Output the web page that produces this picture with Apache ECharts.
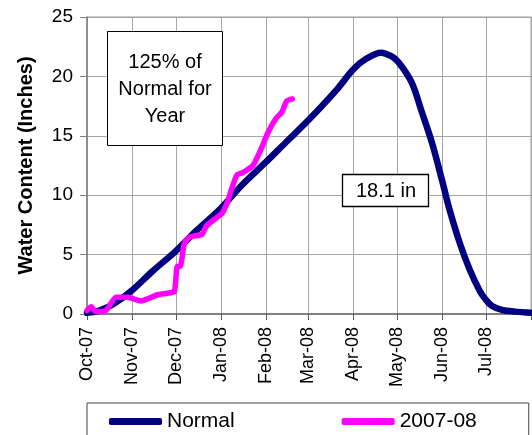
<!DOCTYPE html>
<html>
<head>
<meta charset="utf-8">
<script src="https://cdn.jsdelivr.net/npm/echarts@6/dist/echarts.min.js"></script>
<style>
html,body{margin:0;padding:0;background:#fff;}
#c{width:532px;height:435px;}
</style>
</head>
<body>
<div id="c"></div>
<script>
// ---- data ----
var normalDates = ['2007-10-01','2007-10-10','2007-10-20','2007-11-01','2007-11-15','2007-12-01','2007-12-15','2008-01-01','2008-01-15','2008-02-01','2008-02-15','2008-03-01','2008-03-20','2008-04-01','2008-04-10','2008-04-20','2008-04-27','2008-05-02','2008-05-11','2008-05-18','2008-05-25','2008-06-01','2008-06-06','2008-06-13','2008-06-20','2008-06-27','2008-07-01','2008-07-05','2008-07-12','2008-07-21','2008-08-01'];
var normalValues = [0.1,0.3,0.9,2.0,3.6,5.3,7.0,8.9,10.8,12.8,14.5,16.3,18.8,20.6,21.5,22.0,21.7,21.2,19.5,17.0,14.4,11.2,8.8,6.0,3.7,1.9,1.2,0.7,0.35,0.2,0.1];

var seasonDates = ['2007-10-01','2007-10-04','2007-10-07','2007-10-14','2007-10-21','2007-10-29','2007-11-07','2007-11-18','2007-11-25','2007-11-30','2007-12-02','2007-12-04','2007-12-07','2007-12-11','2007-12-19','2007-12-22','2007-12-29','2008-01-02','2008-01-06','2008-01-08','2008-01-12','2008-01-16','2008-01-23','2008-01-29','2008-02-02','2008-02-08','2008-02-12','2008-02-15','2008-02-19'];
var seasonValues = [0.3,0.6,0.2,0.3,1.4,1.4,1.1,1.6,1.75,1.9,4.0,4.0,6.0,6.5,6.7,7.4,8.1,8.5,9.6,10.4,11.7,11.9,12.5,14.0,15.2,16.5,17.0,17.9,18.1];

var tickDates = ['2007-10-01','2007-11-01','2007-12-01','2008-01-01','2008-02-01','2008-03-01','2008-04-01','2008-05-01','2008-06-01','2008-07-01'];
var tickLabels = ['Oct-07','Nov-07','Dec-07','Jan-08','Feb-08','Mar-08','Apr-08','May-08','Jun-08','Jul-08'];
var gridDates = tickDates.concat(['2008-08-01']);
var yTicks = [0,5,10,15,20,25];

var seriesNames = ['Normal','2007-08'];
var noteText = '125% of\nNormal for\nYear';
var totalText = '18.1 in';

// ---- helpers ----
function ts(s){var p=s.split('-');return Date.UTC(+p[0],+p[1]-1,+p[2]);}
function pairs(d,v){return d.map(function(x,i){return [ts(x),v[i]];});}
var tickTs = tickDates.map(ts);
var gridTs = gridDates.map(ts);
var FONT = '"Liberation Sans", Arial, sans-serif';

var chart = echarts.init(document.getElementById('c'), null, {renderer:'canvas'});
chart.setOption({
  animation:false,
  backgroundColor:'#fff',
  grid:{left:87, top:17, right:1, height:297, show:true, borderColor:'#999', borderWidth:1, backgroundColor:'transparent'},
  xAxis:{
    type:'value',
    min:gridTs[0], max:gridTs[gridTs.length-1],
    axisLine:{show:true, lineStyle:{color:'#808080', width:2}},
    axisTick:{show:true, length:6, customValues:gridTs, lineStyle:{color:'#555'}},
    axisLabel:{
      customValues:tickTs, rotate:90, margin:13, fontSize:18, fontFamily:FONT, color:'#000',
      formatter:function(v){var i=tickTs.indexOf(v);return i>=0?tickLabels[i]:'';}
    },
    splitLine:{show:true, lineStyle:{color:'#a6a6a6', width:1}}
  },
  yAxis:{
    type:'value', min:yTicks[0], max:yTicks[yTicks.length-1], interval:5,
    name:'Water Content (Inches)', nameLocation:'middle', nameRotate:90, nameGap:51,
    nameTextStyle:{fontSize:20, fontWeight:'bold', fontFamily:FONT, color:'#000'},
    axisLine:{show:true, lineStyle:{color:'#808080', width:1.5}},
    axisTick:{show:true, length:7, lineStyle:{color:'#808080'}},
    axisLabel:{fontSize:19, fontFamily:FONT, color:'#000', margin:14},
    splitLine:{show:true, lineStyle:{color:'#a6a6a6', width:1}}
  },
  legend:{
    data:seriesNames, left:87, top:403, orient:'horizontal',
    padding:[8,52,30,22], itemGap:107, itemWidth:53, itemHeight:7, icon:'roundRect',
    borderColor:'#444', borderWidth:1, backgroundColor:'#fff',
    textStyle:{fontSize:21, fontFamily:FONT, color:'#000'}
  },
  series:[
    {name:seriesNames[0], type:'line', data:pairs(normalDates,normalValues), showSymbol:false, symbol:'none',
     smooth:0.35, lineStyle:{color:'#000080', width:6.5, cap:'round', join:'round'}, itemStyle:{color:'#000080'}, z:2},
    {name:seriesNames[1], type:'line', data:pairs(seasonDates,seasonValues), showSymbol:false, symbol:'none',
     smooth:0.2, lineStyle:{color:'#ff00ff', width:5.5, cap:'round', join:'round'}, itemStyle:{color:'#ff00ff'}, z:3}
  ],
  graphic:[
    {type:'rect', shape:{x:107.5, y:31.5, width:115, height:114}, style:{fill:'#fff', stroke:'#000', lineWidth:1}, z:10},
    {type:'text', x:165, y:89, style:{text:noteText, fontSize:20, fontFamily:FONT, fill:'#000', align:'center', verticalAlign:'middle', lineHeight:27}, z:11},
    {type:'rect', shape:{x:342.5, y:174.5, width:86, height:32}, style:{fill:'#fff', stroke:'#000', lineWidth:1.3}, z:10},
    {type:'text', x:386, y:191, style:{text:totalText, fontSize:20, fontFamily:FONT, fill:'#000', align:'center', verticalAlign:'middle'}, z:11}
  ]
});
</script>
</body>
</html>
